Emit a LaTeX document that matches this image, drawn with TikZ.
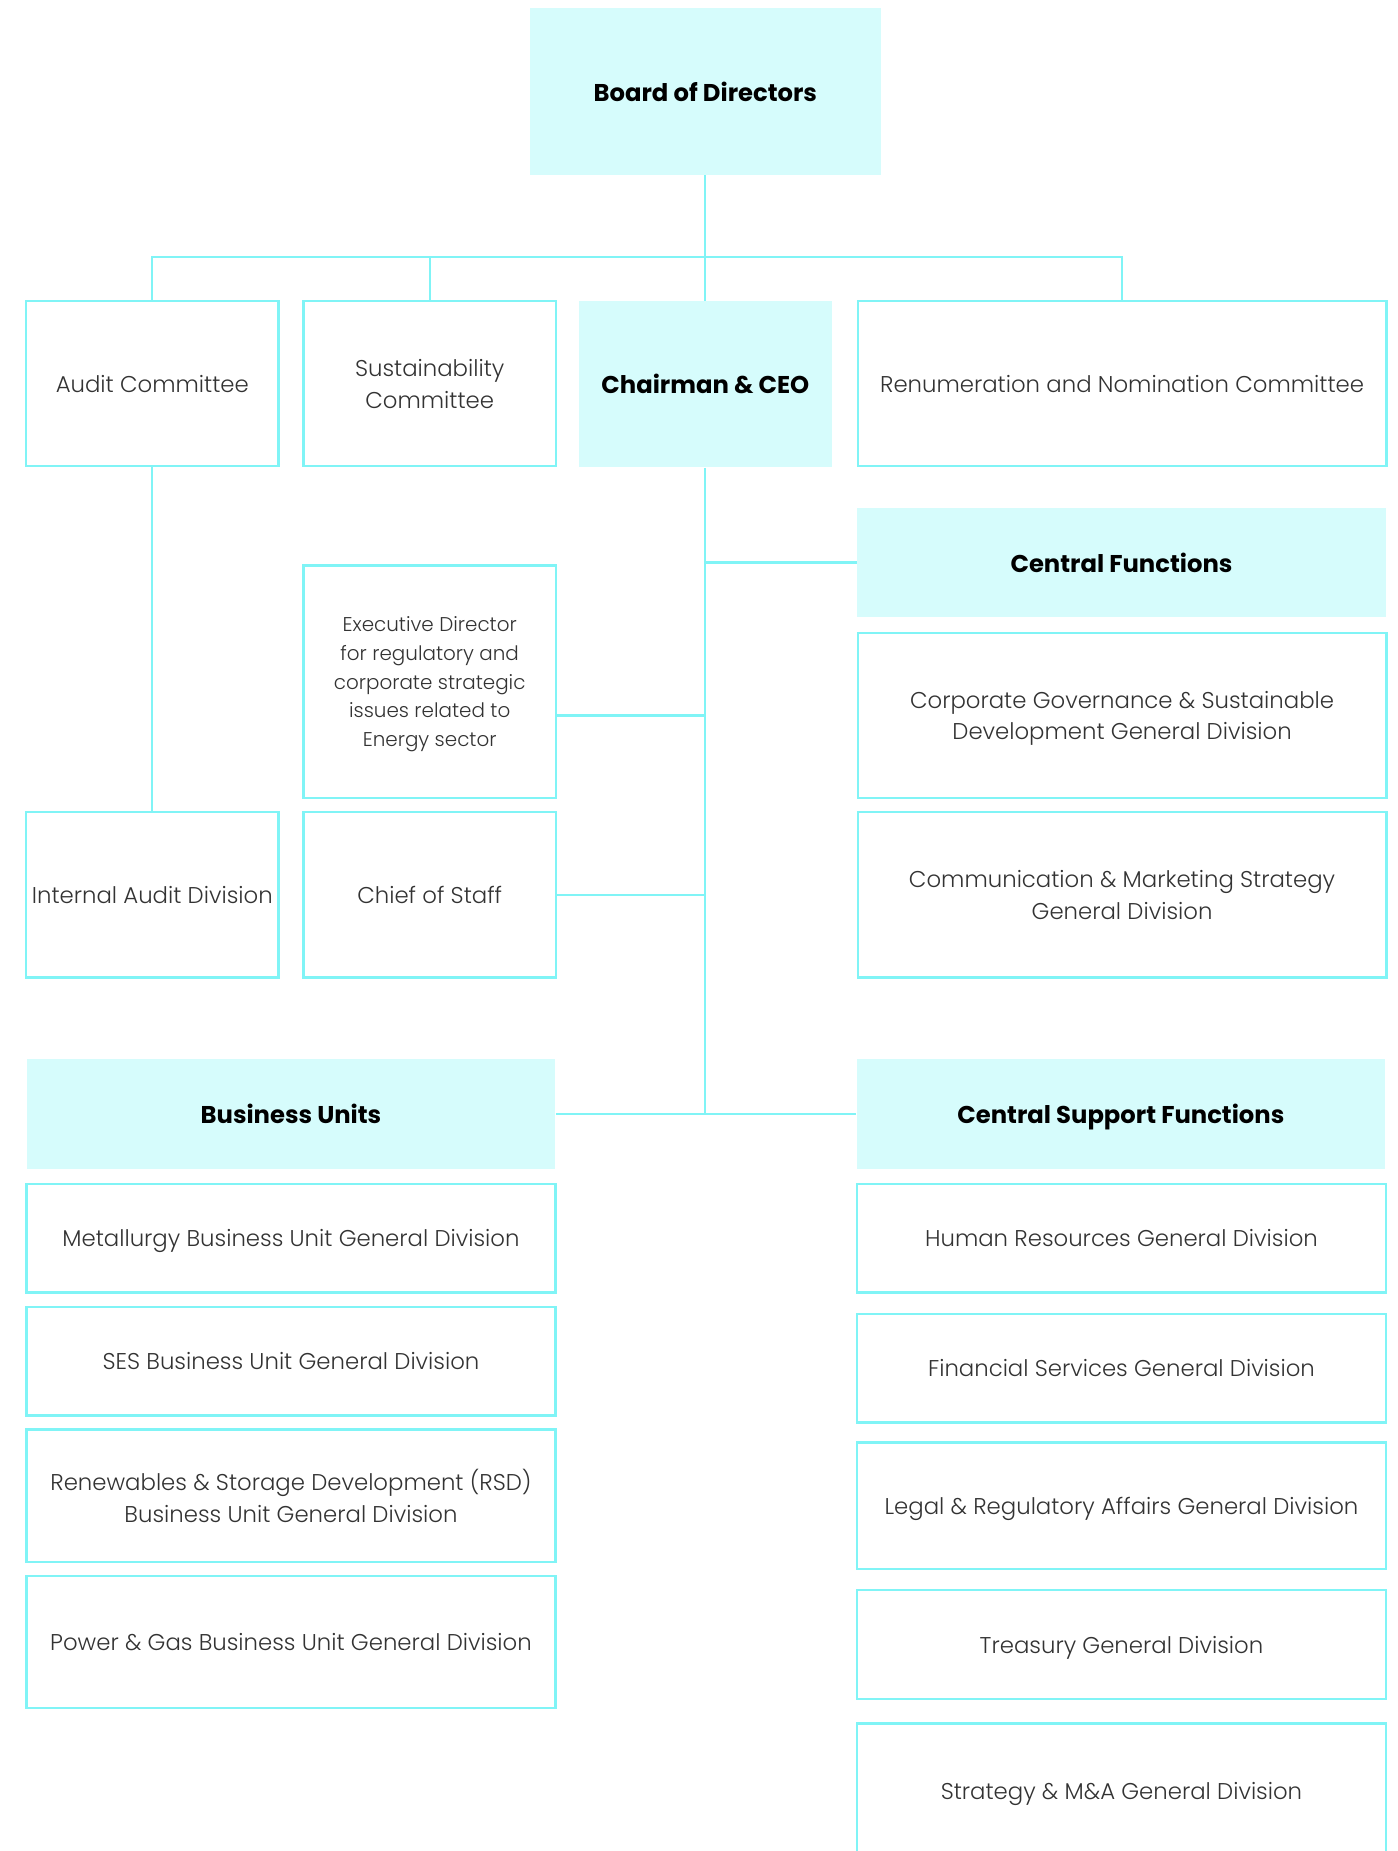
\documentclass[tikz,border=0pt]{standalone}
\usepackage{fontspec}
\setmainfont{Poppins}[UprightFont=* Light, BoldFont=* Bold]
\usetikzlibrary{positioning, calc}
\definecolor{orgline}{HTML}{80F4F6}
\definecolor{orgfill}{HTML}{D6FCFC}
\definecolor{orgtext}{HTML}{333333}

\begin{document}
\begin{tikzpicture}[
		x=0.02cm, y=-0.02cm,
		unit/.style = {rectangle, draw=orgline, line width=1.1pt, align=center, text=orgtext, inner sep=0pt, text depth=-2.3pt, font=\fontsize{11}{15.3}\selectfont},
		head/.style = {rectangle, fill=orgfill, align=center, inner sep=0pt, text depth=0pt, font=\bfseries\fontsize{11.7}{15.3}\selectfont},
		narrow/.style = {minimum width=4.28cm},
		wide/.style = {minimum width=8.96cm},
		link/.style = {draw=orgline, line width=1.1pt},
	]
	\path[use as bounding box, clip] (0,0) rectangle (1184,1568);

	% top
	\node[head, minimum width=5.94cm, minimum height=2.82cm] (board) at (597.5,77.5) {Board of Directors};
	\coordinate (bus) at (597.5,218);

	% committees and CEO
	\node[unit, narrow, minimum height=2.8cm] (audit) at (129,325) {Audit Committee};
	\node[unit, narrow, minimum height=2.8cm] (sust) at (364,325) {Sustainability\\Committee};
	\node[head, narrow, minimum height=2.82cm] (chair) at (597.5,325.5) {Chairman \& CEO};
	\node[unit, wide, minimum height=2.8cm] (renum) at (950.5,325) {Renumeration and Nomination Committee};

	% under the CEO
	\node[head, wide, minimum height=1.86cm] (cf) at (950,476.5) {Central Functions};
	\node[unit, narrow, minimum height=3.94cm, font=\fontsize{9.6}{13.8}\selectfont] (exec) at (364,577.5) {Executive Director\\for regulatory and\\corporate strategic\\issues related to\\Energy sector};
	\node[unit, wide, minimum height=2.8cm] (corpgov) at (950.5,606) {Corporate Governance \& Sustainable\\Development General Division};
	\node[unit, narrow, minimum height=2.8cm] (intaudit) at (129,758) {Internal Audit Division};
	\node[unit, narrow, minimum height=2.8cm] (chief) at (364,758) {Chief of Staff};
	\node[unit, wide, minimum height=2.8cm] (comm) at (950.5,758) {Communication \& Marketing Strategy\\General Division};

	% business units
	\node[head, wide, minimum height=1.86cm] (bu) at (246.5,943.5) {Business Units};
	\node[unit, wide, minimum height=1.84cm] (metal) at (246.5,1049) {Metallurgy Business Unit General Division};
	\node[unit, wide, minimum height=1.84cm] (ses) at (246.5,1153) {SES Business Unit General Division};
	\node[unit, wide, minimum height=2.24cm] (rsd) at (246.5,1267) {Renewables \& Storage Development (RSD)\\Business Unit General Division};
	\node[unit, wide, minimum height=2.24cm] (power) at (246.5,1391) {Power \& Gas Business Unit General Division};

	% support functions
	\node[head, wide, minimum height=1.86cm] (csf) at (949.5,943.5) {Central Support Functions};
	\node[unit, wide, minimum height=1.84cm] (hr) at (950,1049) {Human Resources General Division};
	\node[unit, wide, minimum height=1.84cm] (fin) at (950,1159) {Financial Services General Division};
	\node[unit, wide, minimum height=2.14cm] (legal) at (950,1275.5) {Legal \& Regulatory Affairs General Division};
	\node[unit, wide, minimum height=1.84cm] (treas) at (950,1393) {Treasury General Division};
	\node[unit, wide, minimum height=2.3cm] (strat) at (950,1517.5) {Strategy \& M\&A General Division};

	% links
	\draw[link] (board) -- (chair);
	\draw[link] (audit.north) |- (bus) -| (renum.north);
	\draw[link] (sust.north) -- (sust.north |- bus);
	\draw[link] (audit) -- (intaudit);
	\draw[link] (chair) -- (chair.south |- bu.east);
	\draw[link] (bu) -- (csf);
	\draw[link] (cf) -- (cf.west -| chair.south);
	\draw[link] (corpgov.west -| exec.east) -- (corpgov.west -| chair.south);
	\draw[link] (chief) -- (chief -| chair.south);
\end{tikzpicture}
\end{document}
